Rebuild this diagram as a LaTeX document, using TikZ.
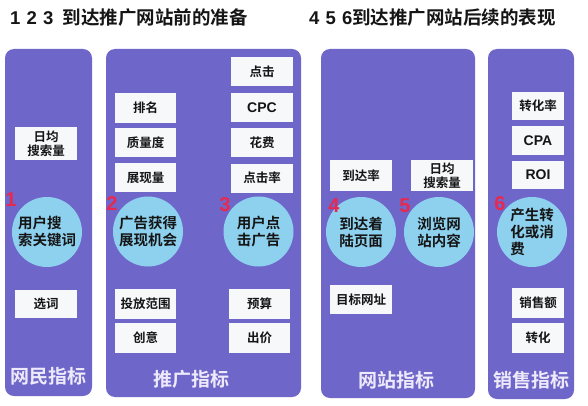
\documentclass[tikz,border=0pt]{standalone}
\usepackage{fontspec}
\setmainfont{Noto Sans CJK SC}[BoldFont={Noto Sans CJK SC Bold}]
\newfontfamily\latinf{Liberation Sans}
\definecolor{panelc}{HTML}{6E67C9}
\definecolor{circc}{HTML}{8ED1EE}
\definecolor{numc}{HTML}{E8294F}
\definecolor{labc}{HTML}{EEEAFB}
\definecolor{boxc}{HTML}{F7F8FA}
\definecolor{txtc}{HTML}{151515}
\begin{document}
\begin{tikzpicture}[x=1pt,y=-1pt,
  panel/.style={draw=none,fill=panelc,rounded corners=9pt,inner sep=0pt},
  box/.style={draw=none,fill=boxc,inner sep=0pt,minimum width=62pt,minimum height=29pt,
    font=\fontsize{12.5}{14}\selectfont\bfseries,text=txtc,align=center},
  lbox/.style={box,font=\fontsize{14}{14}\selectfont\latinf\bfseries},
  circ/.style={circle,draw=none,fill=circc,inner sep=0pt,minimum size=70pt,
    font=\fontsize{14.5}{17}\selectfont\bfseries,text=txtc,align=left},
  num/.style={inner sep=0pt,font=\fontsize{20}{20}\selectfont\latinf\bfseries,text=numc},
  lab/.style={inner sep=0pt,font=\fontsize{19}{19}\selectfont\bfseries,text=labc},
  ttl/.style={inner sep=0pt,anchor=west,font=\fontsize{18.5}{18.5}\selectfont\bfseries,text=txtc}]
\useasboundingbox (0,0) rectangle (588,406);
\fill[white] (0,0) rectangle (588,406);
% titles
\node[ttl] (t1) at (10,18) {{\latinf\bfseries 1\,\,2\,\,3}\,\,\,到达推广网站前的准备};
\node[ttl] (t2) at (309,18) {{\latinf\bfseries 4\,\,5\,\,6}到达推广网站后续的表现};
% panels
\node[panel,minimum width=87pt,minimum height=347pt] (p1) at (48.5,222.5) {};
\node[panel,minimum width=195pt,minimum height=348pt] (p2) at (203.5,223) {};
\node[panel,minimum width=154pt,minimum height=349pt] (p3) at (398,223.5) {};
\node[panel,minimum width=86pt,minimum height=350pt] (p4) at (531,224) {};
% panel 1
\node[box,minimum height=33pt] (b11) at (46,143.5) {日均\\搜索量};
\node[box,minimum height=28pt] (b12) at (46,304) {选词};
\node[circ] (c1) at (47,232) {用户搜\\索关键词};
\node[num] (n1) at (11,200) {1};
\node[lab] (l1) at (48,376) {网民指标};
% panel 2
\node[box,minimum width=61pt,minimum height=30pt] (b21) at (145.5,108) {排名};
\node[box,minimum width=61pt] (b22) at (145.5,142.5) {质量度};
\node[box,minimum width=61pt] (b23) at (145.5,177.5) {展现量};
\node[box,minimum width=61pt,minimum height=30pt] (b24) at (145.5,304) {投放范围};
\node[box,minimum width=61pt,minimum height=30pt] (b25) at (145.5,338) {创意};
\node[box] (b26) at (262,71.5) {点击};
\node[lbox] (b27) at (262,107.5) {CPC};
\node[box] (b28) at (262,142.5) {花费};
\node[box] (b29) at (262,178) {点击率};
\node[box,minimum width=61pt,minimum height=30pt] (b2a) at (259.5,304) {预算};
\node[box,minimum width=61pt,minimum height=30pt] (b2b) at (259.5,338) {出价};
\node[circ] (c2) at (148,231.5) {广告获得\\展现机会};
\node[circ] (c3) at (258.5,231.5) {用户点\\击广告};
\node[num] (n2) at (112,204) {2};
\node[num] (n3) at (225,205) {3};
\node[lab] (l2) at (191,379) {推广指标};
% panel 3
\node[box,minimum height=31pt] (b31) at (361,175.5) {到达率};
\node[box,minimum height=31pt] (b32) at (442,175.5) {日均\\搜索量};
\node[box] (b33) at (361,299.5) {目标网址};
\node[circ] (c4) at (361,232) {到达着\\陆页面};
\node[circ] (c5) at (439,232) {浏览网\\站内容};
\node[num] (n4) at (334,206) {4};
\node[num] (n5) at (405,206) {5};
\node[lab] (l3) at (396,380) {网站指标};
% panel 4
\node[box,minimum width=52pt,minimum height=28pt] (b41) at (538,106) {转化率};
\node[lbox,minimum width=52pt] (b42) at (538,140.5) {CPA};
\node[lbox,minimum width=52pt,minimum height=28pt] (b43) at (538,175) {ROI};
\node[box,minimum width=52pt,minimum height=30pt] (b44) at (538,303) {销售额};
\node[box,minimum width=52pt,minimum height=30pt] (b45) at (538,338) {转化};
\node[circ] (c6) at (532,232) {产生转\\化或消\\费};
\node[num] (n6) at (500,204) {6};
\node[lab] (l4) at (531,380) {销售指标};
\end{tikzpicture}
\end{document}
